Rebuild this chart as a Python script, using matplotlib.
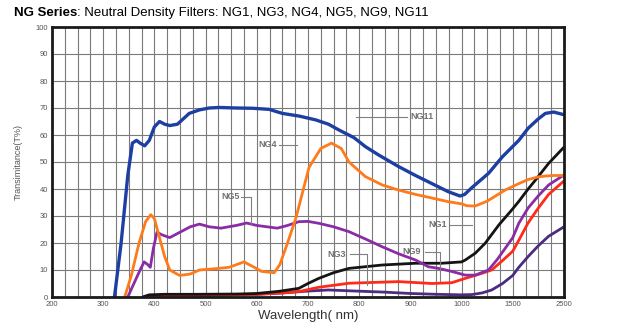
import numpy as np
import matplotlib
matplotlib.use("Agg")
import matplotlib.pyplot as plt

plt.rcParams['font.family'] = ['Liberation Sans', 'DejaVu Sans']

# wavelength axis is stretched 200-1000 and compressed above 1000
axis_wl = [200, 1000, 1500, 2500]
axis_pos = [0, 8, 9, 10]

xticks = [200, 300, 400, 500, 600, 700, 800, 900, 1000, 1500, 2500]
yticks = list(range(0, 101, 10))

ng11_wl = [322, 335, 348, 357, 365, 372, 381, 390, 400, 410, 420, 430, 445, 468, 488, 507,
           527, 560, 592, 624, 650, 683, 715, 740, 760, 790, 812, 838, 877, 910, 941, 974,
           997, 1030, 1100, 1263, 1400, 1617, 1800, 2000, 2136, 2300, 2500]
ng11_t = [0, 20, 45, 57, 58, 57, 56, 58, 63, 65, 64, 63.5, 64, 68, 69.3, 70,
          70.2, 70, 69.9, 69.5, 68, 67, 65.6, 64, 61.9, 59, 55.7, 52.6, 48.3, 45, 42.1, 39,
          37.4, 38, 40.5, 45.8, 52, 58, 62.5, 66, 68, 68.5, 67.5]

ng4_wl = [342, 355, 370, 383, 393, 400, 410, 420, 430, 449, 470, 488, 520, 546, 575, 595,
          609, 634, 645, 660, 676, 702, 725, 746, 765, 780, 812, 845, 877, 910, 941, 974,
          1000, 1050, 1133, 1250, 1425, 1617, 1800, 2000, 2136, 2300, 2500]
ng4_t = [0, 8, 20, 28, 30.5, 29, 22, 15, 10, 8, 8.5, 10, 10.5, 11, 13, 11,
         9.5, 9, 12, 20, 29, 48, 55, 57, 55, 50, 44.6, 41.5, 39.6, 38, 36.7, 35.3,
         34.5, 33.8, 33.7, 35.5, 39.6, 42, 43.5, 44.5, 44.8, 45, 45]

ng5_wl = [348, 360, 372, 380, 387, 392, 398, 405, 415, 430, 450, 470, 488, 507, 530, 560,
          580, 600, 620, 640, 660, 682, 700, 721, 750, 780, 812, 845, 877, 910, 935, 955,
          980, 1036, 1133, 1263, 1350, 1500, 1617, 1800, 2000, 2200, 2500]
ng5_t = [0, 5, 10, 13, 12, 11, 18, 24, 23, 22, 24, 26, 27, 26, 25.5, 26.5,
         27.4, 26.5, 26, 25.5, 26.5, 27.9, 28, 27.3, 26, 24.2, 21.5, 18.6, 16, 13.7, 11.2, 10.6,
         9.5, 8.1, 8.1, 10, 14, 22, 27.3, 33, 37.5, 41.5, 45.2]

ng1_wl = [377, 390, 420, 480, 560, 600, 643, 682, 700, 721, 750, 780, 845, 910, 961, 1000,
          1036, 1133, 1230, 1364, 1489, 1617, 1800, 1942, 2200, 2500]
ng1_t = [0, 0.8, 1.0, 1.0, 1.1, 1.3, 2.1, 3.2, 5, 6.9, 9, 10.6, 11.85, 12.5, 12.5, 13,
         13.7, 16.2, 19.9, 26.7, 32.2, 35.4, 40, 43.3, 49.5, 55.5]

ng9_wl = [385, 420, 500, 600, 650, 682, 721, 780, 877, 942, 981, 1036, 1133, 1200, 1294,
          1400, 1500, 1617, 1800, 2000, 2200, 2500]
ng9_t = [0, 0.3, 0.6, 1.0, 1.5, 2, 3.6, 5.1, 5.7, 5, 5.3, 6.9, 8, 8.8, 10,
         13.5, 17, 21, 27.5, 33, 38, 43]

ng3_wl = [380, 450, 500, 600, 650, 700, 740, 780, 850, 900, 950, 1000, 1100, 1200, 1294,
          1400, 1500, 1617, 1800, 2000, 2200, 2500]
ng3_t = [0, 0.3, 0.6, 1.0, 1.5, 2.2, 2.6, 2.3, 1.8, 1.3, 1.0, 0.8, 0.9, 1.5, 2.6,
         5, 8, 11, 15, 19, 22.5, 26]


def fwd(x):
    return np.interp(x, axis_wl, axis_pos)


def inv(p):
    return np.interp(p, axis_pos, axis_wl)


fig = plt.figure(figsize=(6.18, 3.29), dpi=100)
ax = fig.add_axes([52 / 618, 1 - 297 / 329, 512 / 618, 270 / 329])
ax.set_xscale('function', functions=(fwd, inv))
ax.set_xlim(200, 2500)
ax.set_ylim(0, 100)

# grid: 4 columns per label interval, one row per 10 %
minor_x = inv(np.arange(0, 10.01, 0.25))
ax.set_xticks(minor_x, minor=True)
ax.set_xticks(xticks)
ax.set_xticklabels([str(v) for v in xticks], fontsize=5.5, color='#555555')
ax.set_yticks(yticks)
ax.set_yticklabels([str(v) for v in yticks], fontsize=5.5, color='#555555')
ax.tick_params(which='both', length=0, pad=3)
ax.grid(True, which='both', axis='x', color='#7a7a7a', lw=0.8)
ax.grid(True, which='major', axis='y', color='#7a7a7a', lw=0.8)
ax.set_axisbelow(True)
for s in ax.spines.values():
    s.set_linewidth(2)
    s.set_color('#1a1a1a')

kw = dict(lw=2.0, solid_joinstyle='round', solid_capstyle='round', clip_on=True)
ax.plot(ng3_wl, ng3_t, color='#4b2c7e', **kw)
ax.plot(ng9_wl, ng9_t, color='#ff2a17', **kw)
ax.plot(ng1_wl, ng1_t, color='#141414', **kw)
ax.plot(ng5_wl, ng5_t, color='#8a2ca6', **kw)
ax.plot(ng4_wl, ng4_t, color='#ff7a1a', **kw)
ax.plot(ng11_wl, ng11_t, color='#1d3fa3', lw=2.4, solid_joinstyle='round')

# curve labels with leader lines
lab = dict(fontsize=6.5, color='#707070', fontweight='bold', va='center')
ln = dict(color='#808080', lw=0.8)
ax.plot([793, 893], [66.7, 66.7], **ln)
ax.text(900, 66.7, 'NG11', ha='left', **lab)
ax.plot([644, 679], [56.3, 56.3], **ln)
ax.text(640, 56.3, 'NG4', ha='right', **lab)
ax.plot([570, 589, 589], [37.1, 37.1, 27], **ln)
ax.text(566, 37.1, 'NG5', ha='right', **lab)
ax.plot([783, 815, 815], [15.9, 15.9, 4.4], **ln)
ax.text(774, 15.9, 'NG3', ha='right', **lab)
ax.plot([929, 958, 958], [16.8, 16.8, 6], **ln)
ax.text(920, 16.8, 'NG9', ha='right', **lab)
ax.plot([978, 1097], [26.7, 26.7], **ln)
ax.text(972, 26.7, 'NG1', ha='right', **lab)

ax.set_ylabel('Transimitance(T%)', fontsize=6.5, color='#555555', labelpad=9)
ax.set_xlabel('Wavelength( nm)', fontsize=9.5, color='#333333', labelpad=1)

# title: bold series name followed by plain text
t1 = fig.text(14 / 618, 1 - 13 / 329, 'NG Series', fontsize=9.5, fontweight='bold',
              va='center', ha='left')
fig.canvas.draw()
bb = t1.get_window_extent()
fig.text(bb.x1 / fig.bbox.width, 1 - 13 / 329,
         ': Neutral Density Filters: NG1, NG3, NG4, NG5, NG9, NG11',
         fontsize=9.5, va='center', ha='left')

fig.savefig('out.png', dpi=100)
